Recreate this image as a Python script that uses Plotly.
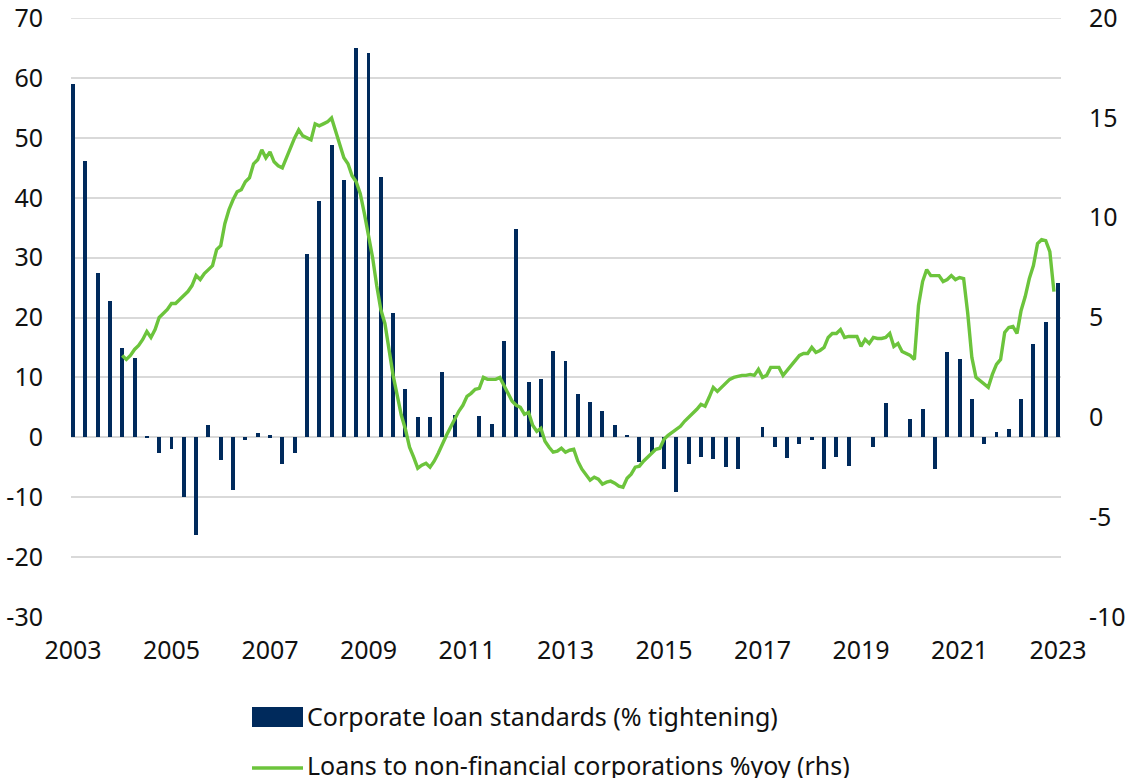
import plotly.graph_objects as go

# Quarterly bank lending survey: corporate loan standards (% tightening), 2003Q1..2023Q1
bar_start_year = 2003
bar_values = [
    59.0, 46.1, 27.4, 22.7,      # 2003
    14.9, 13.3, 0.2, -2.7,       # 2004
    -2.0, -10.0, -16.4, 2.0,     # 2005
    -3.8, -8.8, -0.4, 0.7,       # 2006
    0.3, -4.4, -2.6, 30.6,       # 2007
    39.5, 48.8, 43.0, 65.0,      # 2008
    64.2, 43.5, 20.8, 8.1,       # 2009
    3.3, 3.3, 10.9, 3.8,         # 2010
    0.0, 3.6, 2.2, 16.0,         # 2011
    34.7, 9.3, 9.7, 14.4,        # 2012
    12.7, 7.2, 5.9, 4.4,         # 2013
    2.1, 0.4, -4.1, -2.6,        # 2014
    -5.3, -9.2, -4.4, -3.3,      # 2015
    -3.6, -4.9, -5.3, 0.0,       # 2016
    1.7, -1.7, -3.5, -1.1,       # 2017
    -0.5, -5.3, -3.3, -4.8,      # 2018
    0.0, -1.7, 5.7, 0.0,         # 2019
    3.1, 4.7, -5.3, 14.3,        # 2020
    13.0, 6.4, -1.1, 0.8,        # 2021
    1.4, 6.4, 15.5, 19.2,        # 2022
    25.8,                        # 2023
]

# Monthly loans to NFCs, % yoy, Jan 2004 .. Dec 2022
line_start_year = 2004
line_values = [
    3.1, 2.9, 3.1, 3.4, 3.6, 3.9, 4.3, 4.0, 4.4, 5.0, 5.2, 5.4,            # 2004
    5.7, 5.7, 5.9, 6.1, 6.3, 6.6, 7.1, 6.9, 7.2, 7.4, 7.6, 8.4,            # 2005
    8.6, 9.7, 10.4, 10.9, 11.3, 11.4, 11.8, 12.0, 12.7, 12.9, 13.4, 13.0,  # 2006
    13.3, 12.8, 12.6, 12.5, 13.0, 13.6, 14.0, 14.4, 14.1, 14.0, 13.9, 14.7,  # 2007
    14.6, 14.7, 14.8, 15.0, 14.3, 13.6, 13.0, 12.7, 12.1, 11.8, 11.2, 10.2,  # 2008
    9.1, 8.0, 6.6, 5.4, 4.7, 3.4, 2.1, 1.1, 0.1, -0.6, -1.5, -2.0,         # 2009
    -2.55, -2.4, -2.3, -2.5, -2.2, -1.8, -1.3, -0.9, -0.5, -0.1, 0.3, 0.6,  # 2010
    1.05, 1.2, 1.4, 1.45, 2.0, 1.9, 1.9, 1.9, 2.0, 1.6, 1.2, 0.8,          # 2011
    0.6, 0.5, 0.15, 0.25, -0.4, -0.7, -0.55, -1.2, -1.5, -1.75, -1.7, -1.55,  # 2012
    -1.75, -1.65, -1.6, -2.2, -2.6, -2.9, -3.15, -3.0, -3.1, -3.35, -3.25, -3.2,  # 2013
    -3.3, -3.45, -3.5, -3.05, -2.85, -2.5, -2.45, -2.2, -2.0, -1.75, -1.6, -1.55,  # 2014
    -1.1, -0.9, -0.75, -0.6, -0.45, -0.2, 0.0, 0.15, 0.4, 0.65, 0.55, 1.0,  # 2015
    1.5, 1.3, 1.5, 1.7, 1.9, 2.0, 2.05, 2.1, 2.1, 2.15, 2.1, 2.4,          # 2016
    2.0, 2.1, 2.5, 2.5, 2.5, 2.1, 2.35, 2.6, 2.8, 3.1, 3.2, 3.2,           # 2017
    3.5, 3.25, 3.35, 3.5, 4.0, 4.2, 4.2, 4.4, 4.0, 4.05, 4.05, 4.05,       # 2018
    3.55, 3.9, 3.7, 4.0, 3.95, 3.95, 4.0, 4.2, 3.55, 3.7, 3.3, 3.2,        # 2019
    3.1, 2.9, 5.6, 6.8, 7.4, 7.1, 7.1, 7.1, 6.8, 6.9, 7.1, 6.9,            # 2020
    7.0, 6.95, 5.2, 3.0, 2.0, 1.85, 1.7, 1.5, 2.15, 2.65, 2.9, 4.25,       # 2021
    4.5, 4.55, 4.2, 5.35, 6.05, 6.95, 7.6, 8.7, 8.9, 8.85, 8.3, 6.3,       # 2022
]

x_tick_years = [2003, 2005, 2007, 2009, 2011, 2013, 2015, 2017, 2019, 2021, 2023]
left_ticks = [70, 60, 50, 40, 30, 20, 10, 0, -10, -20, -30]
right_ticks = [20, 15, 10, 5, 0, -5, -10]
bar_name = "Corporate loan standards (% tightening)"
line_name = "Loans to non-financial corporations %yoy (rhs)"

NAVY = "#002a5c"
GREEN = "#6cc43c"
GRID = "#d9d9d9"
FONT = "Noto Sans"
TEXT = "#111111"

bar_x = [bar_start_year + i * 0.25 for i in range(len(bar_values))]
line_x = [line_start_year + i / 12 for i in range(len(line_values))]

fig = go.Figure()
fig.add_trace(go.Bar(x=bar_x, y=bar_values, name=bar_name, marker_color=NAVY,
                     marker_line_width=0, width=0.08, yaxis="y", showlegend=False))
fig.add_trace(go.Scatter(x=line_x, y=line_values, name=line_name, mode="lines",
                         line=dict(color=GREEN, width=3.4), yaxis="y2", showlegend=False))

# plot area: x 71..1061, y 18..617
L, R, T, B = 71, 1061, 18, 617
W, H = R - L, B - T

fig.update_layout(
    width=1128, height=778,
    margin=dict(l=L, r=1128 - R, t=T, b=778 - B),
    paper_bgcolor="white", plot_bgcolor="white",
    font=dict(family=FONT, size=25, color=TEXT),
    xaxis=dict(range=[2002.96, 2023.06], tickmode="array", tickvals=x_tick_years,
               ticktext=[str(y) for y in x_tick_years], showgrid=False, zeroline=False,
               showline=False, ticks="", ticklabelstandoff=16, automargin=False,
               ticklabeloverflow="allow"),
    yaxis=dict(range=[-30.02, 70.02], tickmode="array", tickvals=left_ticks,
               ticktext=[str(v) for v in left_ticks], showgrid=True, gridcolor=GRID,
               gridwidth=1.5, zeroline=False, showline=False, ticks="",
               ticklabelstandoff=27, automargin=False, ticklabeloverflow="allow"),
    yaxis2=dict(range=[-10.006, 20.006], tickmode="array", tickvals=right_ticks,
                ticktext=[str(v) for v in right_ticks], overlaying="y", side="right",
                showgrid=False, zeroline=False, showline=False, ticks="",
                ticklabelstandoff=27, automargin=False, ticklabeloverflow="allow"),
    bargap=0,
)

# top gridline (plotly drops the gridline lying on the plot edge)
fig.add_shape(type="line", xref="paper", yref="y", x0=0, x1=1,
              y0=left_ticks[0], y1=left_ticks[0], layer="below",
              line=dict(color=GRID, width=1.5))

# Custom legend below the plot
def px_x(x):
    return (x - L) / W

def px_y(y):
    return (B - y) / H

fig.add_shape(type="rect", xref="paper", yref="paper",
              x0=px_x(252), x1=px_x(303), y0=px_y(727), y1=px_y(707),
              fillcolor=NAVY, line_width=0)
fig.add_shape(type="line", xref="paper", yref="paper",
              x0=px_x(252), x1=px_x(303), y0=px_y(768), y1=px_y(768),
              line=dict(color=GREEN, width=3.5))
fig.add_annotation(xref="paper", yref="paper", x=px_x(305), y=px_y(716),
                   text=bar_name, showarrow=False, xanchor="left", yanchor="middle",
                   font=dict(family=FONT, size=25, color=TEXT))
fig.add_annotation(xref="paper", yref="paper", x=px_x(305), y=px_y(765),
                   text=line_name, showarrow=False, xanchor="left", yanchor="middle",
                   font=dict(family=FONT, size=25, color=TEXT))

fig.write_html("out.html", config={"displayModeBar": False},
               post_script="document.body.style.margin='0';document.body.style.overflow='hidden';")
